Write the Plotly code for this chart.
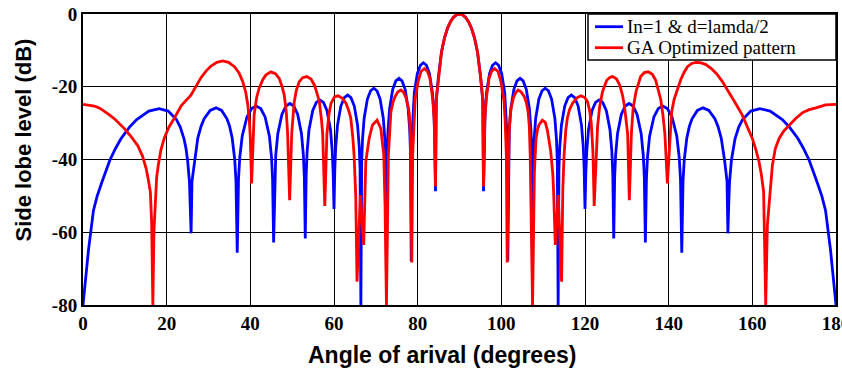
import plotly.graph_objects as go

# Uniform array (In = 1, d = lambda/2): angle (deg) and normalised level (dB)
angle_uniform = [
    0, 1.3, 2.5, 3.4, 4.53, 6.41, 7.8, 9.07, 11.11, 12.84, 15.74, 18.19, 20.36, 22.33,
    23.25, 24.14, 24.61, 25.0, 25.45, 25.65, 25.84,
    26.05, 26.66, 27.44, 28.21, 28.96, 30.4, 31.79, 33.13, 34.41, 35.05, 35.66, 36.27, 36.57, 36.87,
    37.17, 37.47, 38.05, 39.19, 40.32, 41.41, 42.48, 43.53, 44.56, 45.07, 45.32, 45.57,
    45.82, 46.07, 46.57, 47.55, 48.51, 49.46, 50.39, 51.32, 52.23, 52.68, 52.91, 53.13,
    53.36, 53.58, 54.02, 54.90, 55.77, 56.63, 57.48, 58.33, 59.17, 59.59, 59.80, 60.0,
    60.20, 60.41, 60.83, 61.64, 62.45, 63.26, 64.06, 64.85, 65.64, 66.03, 66.23, 66.42,
    66.62, 66.81, 67.20, 67.98, 68.75, 69.51, 70.27, 71.03, 71.79, 72.17, 72.36, 72.54,
    72.73, 72.92, 73.29, 74.04, 74.78, 75.52, 76.26, 77.00, 77.73, 78.10, 78.28, 78.46,
    78.64, 78.83, 79.19, 79.92, 80.65, 81.37, 82.10, 82.82, 83.54, 83.90, 84.08, 84.26,
    84.44, 84.98, 85.70, 86.42, 87.13, 87.85, 88.57, 89.28, 90.0,
    90.72, 91.43, 92.15, 92.87, 93.58, 94.30, 95.02, 95.56, 95.74,
    95.92, 96.10, 96.46, 97.18, 97.90, 98.63, 99.35, 100.08, 100.81, 101.17, 101.36, 101.54,
    101.72, 101.90, 102.27, 103.00, 103.74, 104.48, 105.22, 105.96, 106.71, 107.08, 107.27, 107.46,
    107.64, 107.83, 108.21, 108.97, 109.73, 110.49, 111.25, 112.02, 112.80, 113.19, 113.38, 113.58,
    113.77, 113.97, 114.36, 115.15, 115.94, 116.74, 117.55, 118.36, 119.17, 119.59, 119.80, 120.0,
    120.20, 120.41, 120.83, 121.67, 122.52, 123.37, 124.23, 125.10, 125.98, 126.42, 126.64, 126.87,
    127.09, 127.32, 127.77, 128.68, 129.61, 130.54, 131.49, 132.45, 133.43, 133.93, 134.18, 134.43,
    134.68, 134.93, 135.44, 136.47, 137.52, 138.59, 139.68, 140.81, 141.95, 142.53, 142.83, 143.13,
    143.43, 143.73, 144.34, 144.95, 145.59, 146.87, 148.21, 149.6, 151.04, 151.79, 152.56, 153.34,
    153.95, 154.16,
    154.35, 154.55, 155.0, 155.39, 155.86, 156.75, 157.67, 159.64, 161.81, 164.26, 167.16, 168.89,
    170.93, 172.2, 173.59, 175.47, 176.6, 177.5, 178.7, 180,
]
level_uniform = [
    -80, -65, -54, -50, -46.2, -40.2, -36.9, -34.3, -31.1, -29.0, -26.7, -26.0, -26.7, -29.0,
    -31.1, -34.3, -36.9, -40.2, -46.2, -52.5, -60.3,
    -46, -40.0, -34.1, -30.9, -28.8, -26.5, -25.8, -26.5, -28.8, -30.9, -34.1, -40.0, -46, -65.6,
    -45.5, -39.5, -33.6, -28.3, -26.0, -25.3, -26.0, -28.3, -33.6, -39.5, -45.5, -62.8,
    -44.8, -38.8, -32.9, -27.6, -25.3, -24.6, -25.3, -27.6, -32.9, -38.8, -44.8, -61.7,
    -43.8, -37.8, -31.9, -26.6, -24.3, -23.6, -24.3, -26.6, -31.9, -37.8, -43.8, -53.6,
    -42.5, -36.5, -30.6, -25.3, -23.0, -22.3, -23.0, -25.3, -30.6, -36.5, -42.5, -80,
    -40.6, -34.6, -28.7, -23.4, -21.1, -20.4, -21.1, -23.4, -28.7, -34.6, -40.6, -75,
    -37.9, -31.9, -26.0, -20.7, -18.4, -17.7, -18.4, -20.7, -26.0, -31.9, -37.9, -68,
    -33.6, -27.6, -21.7, -16.4, -14.1, -13.4, -14.1, -16.4, -21.7, -27.6, -33.6, -48.7,
    -23.6, -17.1, -10.45, -6.54, -3.92, -2.11, -0.91, -0.22, 0,
    -0.22, -0.91, -2.11, -3.92, -6.54, -10.45, -17.1, -23.6, -48.7,
    -33.6, -27.6, -21.7, -16.4, -14.1, -13.4, -14.1, -16.4, -21.7, -27.6, -33.6, -68,
    -37.9, -31.9, -26.0, -20.7, -18.4, -17.7, -18.4, -20.7, -26.0, -31.9, -37.9, -75,
    -40.6, -34.6, -28.7, -23.4, -21.1, -20.4, -21.1, -23.4, -28.7, -34.6, -40.6, -80,
    -42.5, -36.5, -30.6, -25.3, -23.0, -22.3, -23.0, -25.3, -30.6, -36.5, -42.5, -53.6,
    -43.8, -37.8, -31.9, -26.6, -24.3, -23.6, -24.3, -26.6, -31.9, -37.8, -43.8, -61.7,
    -44.8, -38.8, -32.9, -27.6, -25.3, -24.6, -25.3, -27.6, -32.9, -38.8, -44.8, -62.8,
    -45.5, -39.5, -33.6, -28.3, -26.0, -25.3, -26.0, -28.3, -33.6, -39.5, -45.5, -65.6,
    -46, -40.0, -34.1, -30.9, -28.8, -26.5, -25.8, -26.5, -28.8, -30.9, -34.1, -40.0,
    -46, -60.3,
    -52.5, -46.2, -40.2, -36.9, -34.3, -31.1, -29.0, -26.7, -26.0, -26.7, -29.0, -31.1,
    -34.3, -36.9, -40.2, -46.2, -50, -54, -65, -80,
]

# GA optimised array: angle (deg) and normalised level (dB)
angle_ga = [
    0, 1.5, 2.7, 4.0, 5.1, 6.4, 7.7, 8.8, 9.9, 11.5, 13.1, 14.2, 15.1, 15.6, 16.1, 16.4, 16.7,
    16.95, 17.2, 17.6, 18.0, 18.6, 19.4, 20.5, 21.8, 23.5, 25.8, 27.0, 28.2, 29.4, 30.6, 32.0,
    33.4, 34.8, 36.2, 37.3, 38.2, 38.9, 39.4, 39.8, 40.0, 40.3,
    40.9, 41.5, 42.1, 43.0, 43.7, 44.9, 46.0, 46.9, 47.6, 48.1, 48.6, 48.9, 49.4,
    49.9, 50.2, 50.5, 51.0, 51.7, 52.5, 53.5, 54.5, 55.3, 56.0, 56.5, 57.0, 57.3, 57.8,
    58.3, 58.8, 59.3, 60.1, 61.0, 62.0, 62.9, 63.5, 64.0, 64.5, 64.8, 65.2, 65.5, 66.3, 67.1,
    67.6, 68.0, 68.4, 69.2, 70.3, 71.2, 71.6, 71.9, 72.2, 72.54,
    73.0, 73.3, 73.6, 74.1, 74.6, 75.3, 76.0, 76.6, 77.2, 77.7, 78.0, 78.25, 78.4, 78.6,
    78.8, 79.1, 79.4, 80.1, 80.8, 81.6, 82.3, 82.9, 83.6, 83.95, 84.1, 84.26,
    84.44, 84.98, 85.70, 86.42, 87.13, 87.85, 88.57, 89.28, 90.0,
    90.72, 91.43, 92.15, 92.87, 93.58, 94.30, 95.02, 95.56, 95.74,
    95.9, 96.05, 96.4, 97.1, 97.7, 98.4, 99.2, 99.9, 100.6, 100.9, 101.2, 101.4,
    101.7, 101.85, 102.1, 102.4, 102.9, 103.5, 104.0, 104.7, 105.5, 106.0, 106.4, 106.7, 106.9, 107.46,
    107.9, 108.3, 108.7, 109.0, 109.8, 110.5, 111.0, 111.5, 111.8, 112.3, 112.5, 112.9, 113.6, 114.4,
    114.7, 115.0, 115.4, 115.8, 116.3, 117.0, 118.0, 119.0, 119.9, 120.6, 121.1, 121.5, 121.9, 122.2,
    122.7, 123.0, 123.5, 124.2, 125.2, 126.0, 126.6, 127.5, 128.3, 128.9, 129.4, 129.9, 130.2, 130.6,
    131.1, 131.5, 132.2, 133.3, 134.2, 135.1, 136.1, 136.9, 137.6, 138.1, 138.6, 139.1, 139.7,
    140.3, 140.7, 141.3, 142.1, 142.9, 143.7, 144.5, 145.5, 146.5, 147.6, 148.9, 150.2, 151.5,
    152.8, 154.2, 155.9, 157.6, 159.0, 160.0, 160.9, 161.6, 162.2, 162.7, 163.2,
    163.6, 164.0, 164.4, 164.8, 165.5, 166.4, 167.5, 168.8, 170.3, 172.0, 173.6, 175.2, 177.5, 180,
]
level_ga = [
    -24.85, -25.0, -25.3, -25.9, -26.7, -27.8, -29.0, -30.2, -31.5, -33.7, -36.2, -39.0, -42.5, -45.5, -48.9, -57, -80,
    -60, -52.5, -45, -41.5, -37.5, -34.2, -31.2, -28.7, -25.2, -22.3, -19.8, -17.5, -15.7, -14.3, -13.3,
    -12.9, -13.3, -14.5, -16.2, -18.6, -21.5, -25.0, -30.0, -34.2, -46.6,
    -27.8, -23.0, -20.4, -18.0, -16.8, -15.9, -16.4, -17.7, -20.0, -22.3, -27.0, -32.6, -51.2,
    -32.6, -27.5, -24.1, -21.0, -18.6, -17.5, -17.2, -17.9, -19.5, -22.0, -24.1, -29.0, -33.0, -52.8,
    -33.0, -27.5, -24.5, -22.8, -22.5, -23.2, -24.6, -26.5, -28.5, -34.0, -38.8, -50.0, -73.6, -49.8, -63.5,
    -40.6, -36.5, -34.2, -30.5, -29.2, -31.5, -35.0, -38.8, -52.5, -80,
    -38.8, -31.0, -26.9, -24.3, -22.7, -21.4, -20.9, -21.5, -23.0, -25.5, -27.5, -33.0, -43.4, -68.3,
    -38.8, -29.0, -23.5, -18.6, -15.8, -15.0, -15.7, -17.5, -23.3, -29.2, -35.0, -47.4,
    -23.6, -17.1, -10.45, -6.54, -3.92, -2.11, -0.91, -0.22, 0,
    -0.22, -0.91, -2.11, -3.92, -6.54, -10.45, -17.1, -23.6, -47.4,
    -35.0, -29.2, -23.3, -17.5, -15.7, -15.0, -15.8, -18.6, -23.5, -29.0, -38.8, -68.3,
    -43.4, -33.0, -28.0, -25.5, -23.0, -21.5, -20.9, -21.4, -22.7, -24.5, -26.9, -31.0, -38.8, -80,
    -43.4, -34.2, -31.5, -30.5, -29.2, -29.8, -31.9, -35.5, -37.7, -44.0, -48.9, -63.5, -49.8, -73.6,
    -48.0, -38.8, -32.0, -28.5, -26.3, -24.6, -23.1, -22.5, -22.9, -24.1, -26.5, -30.0, -38.0, -52.8,
    -36.0, -31.0, -25.5, -21.3, -18.2, -17.4, -17.2, -17.8, -19.5, -22.0, -25.0, -29.5, -33.0, -51.2,
    -32.6, -26.0, -21.3, -17.2, -16.1, -15.9, -16.6, -18.2, -21.0, -23.5, -27.5, -33.0, -46.6,
    -32.6, -27.0, -23.5, -20.5, -18.0, -16.0, -14.5, -13.6, -13.3, -13.4, -13.9, -15.0, -16.5,
    -18.5, -21.0, -24.4, -27.8, -31.5, -34.2, -37.5, -40.6, -44.5, -48.9, -80,
    -58, -52.5, -46.0, -41.5, -37.0, -34.2, -32.2, -30.5, -28.8, -27.1, -26.3, -25.8, -25.0, -24.85,
]

x_ticks = [0, 20, 40, 60, 80, 100, 120, 140, 160, 180]
y_ticks = [0, -20, -40, -60, -80]
y_tick_labels = ["0", "-20", "-40", "-60", "-80"]
series_names = ["In=1 & d=lamda/2", "GA Optimized pattern"]
series_colors = ["#0000ff", "#ff0000"]

fig = go.Figure()
fig.add_trace(go.Scatter(x=angle_uniform, y=level_uniform, mode="lines", showlegend=False,
                         name=series_names[0], line=dict(color=series_colors[0], width=2.8)))
fig.add_trace(go.Scatter(x=angle_ga, y=level_ga, mode="lines", showlegend=False,
                         name=series_names[1], line=dict(color=series_colors[1], width=2.8)))

tick_font = dict(family="Liberation Serif", size=19, color="black", weight="bold")
axis_common = dict(showgrid=True, gridcolor="black", gridwidth=1.1, zeroline=False,
                   showline=True, linecolor="black", linewidth=2, mirror=True,
                   ticks="", tickfont=tick_font, ticklabeloverflow="allow",
                   automargin=False)

fig.update_xaxes(range=[0, 180], tickvals=x_ticks, ticktext=[str(v) for v in x_ticks],
                 **axis_common)
fig.update_yaxes(range=[-80, 0], tickvals=y_ticks, ticktext=y_tick_labels,
                 **axis_common)


# pixel helpers for the plot frame (l=83, t=14, 753 x 291 plot area)
def px_x(px):
    return (px - 83) / 753


def px_y(py):
    return (305 - py) / 291


# legend: white framed box with line samples and labels
fig.add_shape(type="rect", xref="paper", yref="paper",
              x0=px_x(588), x1=1.0, y0=px_y(60), y1=1.0,
              fillcolor="white", line=dict(color="black", width=1.5), layer="above")
for row, (label, color) in enumerate(zip(series_names, series_colors)):
    ly = 26.7 + 21 * row
    fig.add_shape(type="line", xref="paper", yref="paper",
                  x0=px_x(595), x1=px_x(623), y0=px_y(ly), y1=px_y(ly),
                  line=dict(color=color, width=2.8), layer="above")
    fig.add_annotation(text=label, xref="paper", yref="paper",
                       x=px_x(625), y=px_y(ly), xanchor="left", yanchor="middle",
                       showarrow=False,
                       font=dict(family="Liberation Serif", size=19, color="black"))

fig.add_annotation(text="Angle of arival (degrees)", xref="paper", yref="paper",
                   x=px_x(441.5), y=px_y(355), xanchor="center", yanchor="middle",
                   showarrow=False,
                   font=dict(family="Liberation Sans", size=23, color="black", weight="bold"))
fig.add_annotation(text="Side lobe level (dB)", xref="paper", yref="paper",
                   x=px_x(22.5), y=px_y(140), xanchor="center", yanchor="middle",
                   textangle=-90, showarrow=False,
                   font=dict(family="Liberation Sans", size=22, color="black", weight="bold"))

fig.update_layout(
    width=842, height=372,
    margin=dict(l=83, r=6, t=14, b=67, autoexpand=False),
    paper_bgcolor="white", plot_bgcolor="white",
)

fig.write_html("out.html")
